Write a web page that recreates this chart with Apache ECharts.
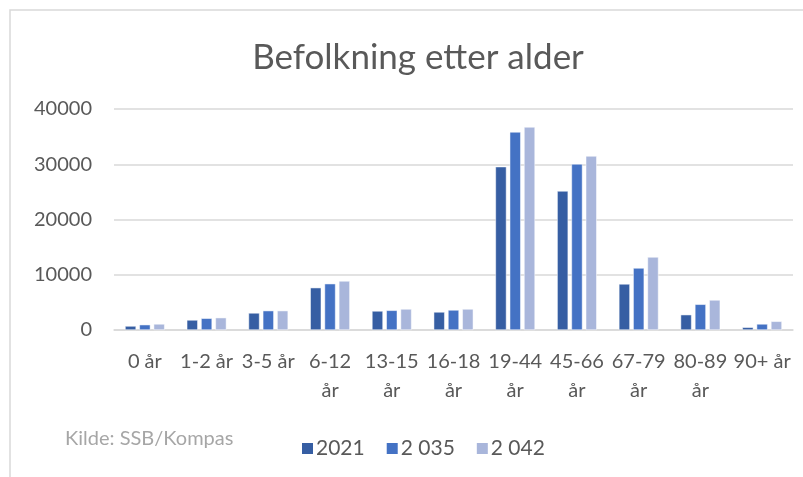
<!DOCTYPE html>
<html>
<head>
<meta charset="utf-8">
<script src="https://cdn.jsdelivr.net/npm/echarts@6/dist/echarts.min.js"></script>
<style>
  html, body { margin: 0; padding: 0; background: #fff; }
  #chart { width: 803px; height: 477px; }
</style>
</head>
<body>
<div id="chart"></div>
<script>
// aldersgrupper
const categories = ['0 år', '1-2 år', '3-5 år', '6-12 år', '13-15 år', '16-18 år', '19-44 år', '45-66 år', '67-79 år', '80-89 år', '90+ år']
const seriesNames = ['2021', '2 035', '2 042']
const values2021 = [720, 1810, 3080, 7660, 3440, 3260, 29560, 25160, 8330, 2770, 490]
const values2035 = [960, 2120, 3500, 8380, 3560, 3620, 35840, 30050, 11220, 4650, 1090]
const values2042 = [1090, 2230, 3500, 8870, 3800, 3800, 36740, 31490, 13210, 5430, 1570]
const yTicks = [0, 10000, 20000, 30000, 40000]

const colors = ['#365EA3', '#4472C4', '#A9B6DB']
const FONT = 'Lato'
const TXT = '#595959'

const chart = echarts.init(document.getElementById('chart'))

const makeSeries = (name, data, i) => ({
    name: name,
    type: 'bar',
    data: data,
    barWidth: 11,
    barGap: '30%',
    itemStyle: { color: colors[i], borderColor: '#fff', borderWidth: 0.5 }
})

const option = {
    animation: false,
    textStyle: { fontFamily: FONT },
    title: {
        text: 'Befolkning etter alder',
        left: 413,
        textAlign: 'center',
        top: 35,
        textStyle: { fontFamily: FONT, fontSize: 35, fontWeight: 'normal', color: TXT }
    },
    legend: {
        data: seriesNames,
        left: 295,
        top: 433,
        itemWidth: 13,
        itemHeight: 13,
        itemGap: 20,
        icon: 'rect',
        textStyle: { fontFamily: FONT, fontSize: 21, color: TXT, padding: [0, 0, 0, -3] }
    },
    grid: { left: 114, right: 10, top: 109, bottom: 147 },
    xAxis: {
        type: 'category',
        data: categories,
        axisTick: { show: false },
        axisLine: { lineStyle: { color: '#D9D9D9', width: 1.5 } },
        axisLabel: {
            interval: 0,
            margin: 17,
            fontFamily: FONT,
            fontSize: 20,
            color: TXT,
            lineHeight: 29,
            // lange etiketter brytes over to linjer
            formatter: v => v.length > 6 ? v.replace(' ', '\n') : v
        }
    },
    yAxis: {
        type: 'value',
        min: yTicks[0],
        max: yTicks[yTicks.length - 1],
        interval: yTicks[1] - yTicks[0],
        axisLabel: { fontFamily: FONT, fontSize: 20, color: TXT, margin: 22, formatter: v => String(v) },
        splitLine: { lineStyle: { color: '#D9D9D9', width: 1.5 } },
        axisLine: { show: false },
        axisTick: { show: false }
    },
    graphic: [
        {
            type: 'rect',
            shape: { x: 10, y: 10, width: 900, height: 600 },
            style: { fill: 'none', stroke: '#D9D9D9', lineWidth: 1.5 },
            silent: true
        },
        {
            type: 'text',
            left: 65,
            top: 429,
            style: { text: 'Kilde: SSB/Kompas', fontFamily: FONT, fontSize: 20, fill: '#A6A6A6' }
        }
    ],
    series: [
        makeSeries(seriesNames[0], values2021, 0),
        makeSeries(seriesNames[1], values2035, 1),
        makeSeries(seriesNames[2], values2042, 2)
    ]
}

chart.setOption(option)
</script>
</body>
</html>
